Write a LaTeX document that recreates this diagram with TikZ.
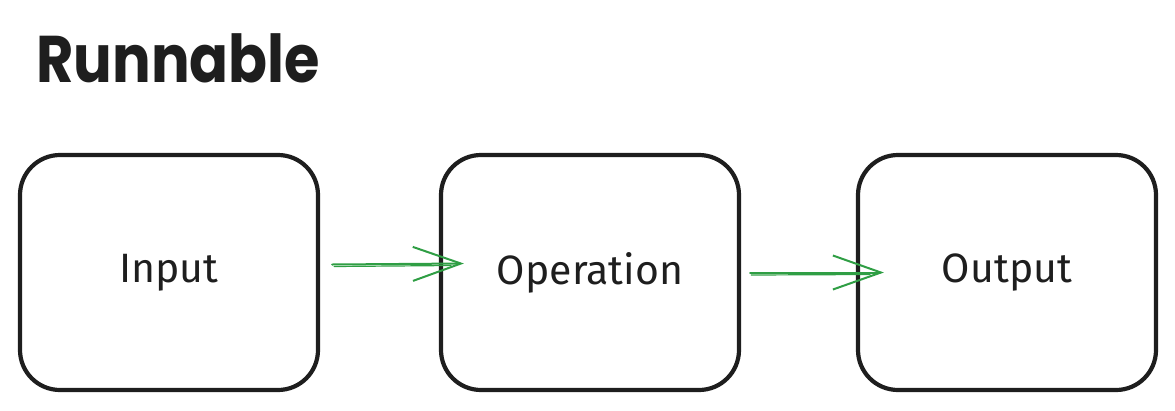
\documentclass[tikz,border=0pt]{standalone}
\usepackage{fontspec}
\setmainfont{Fira Sans}
\newfontfamily\titlefont{Poppins}
\usetikzlibrary{arrows.meta}
\definecolor{ink}{HTML}{1E1E1E}
\definecolor{arrowgreen}{HTML}{2F9E44}
\tikzset{
  stepbox/.style={draw=ink, line width=4.2pt, rounded corners=40pt,
    minimum width=298pt, minimum height=235pt, inner sep=0pt,
    font=\fontsize{41}{46}\selectfont, text=ink},
  flow/.style={draw=arrowgreen, line width=2pt, line cap=round,
    -{Straight Barb[length=48pt,width=34pt,line width=2pt]}},
  flowtrace/.style={draw=arrowgreen, line width=1.2pt, line cap=round},
  titletext/.style={font=\titlefont\bfseries\fontsize{66}{72}\selectfont, text=ink, anchor=base west, inner sep=0pt, xscale=0.87}
}
\begin{document}
\begin{tikzpicture}[x=1pt,y=-1pt]
\useasboundingbox (0,0) rectangle (1175,410);
\node[titletext] (title) at (36,82) {Runnable};
\node[stepbox] (in) at (169,272.5) {Input};
\node[stepbox] (op) at (590,272.5) {Operation};
\node[stepbox] (out) at (1007,272.5) {Output};
\draw[flow] ([xshift=12pt,yshift=8pt]in.east) -- ([xshift=25pt,yshift=9pt]op.west);
\draw[flowtrace] ([xshift=14pt,yshift=6pt]in.east) -- ([xshift=12pt,yshift=7pt]op.west);
\draw[flow] ([xshift=9pt,yshift=0pt]op.east) -- ([xshift=28pt,yshift=0pt]out.west);
\draw[flowtrace] ([xshift=10pt,yshift=-2.5pt]op.east) -- ([xshift=14pt,yshift=-2pt]out.west);
\end{tikzpicture}
\end{document}
